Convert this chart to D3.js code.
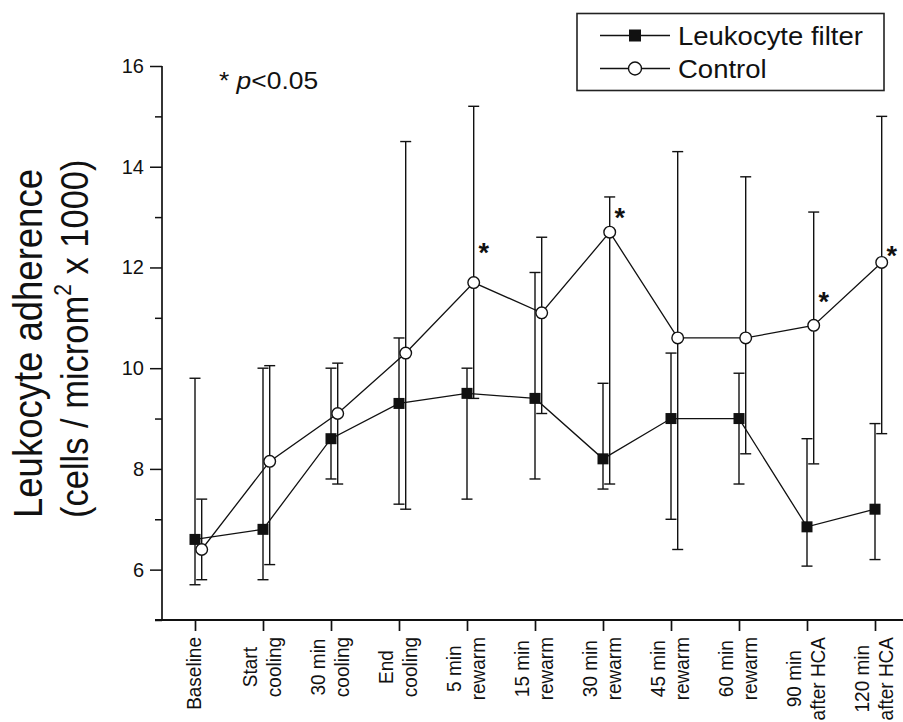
<html>
<head>
<meta charset="utf-8">
<style>
  body { margin: 0; background: #fff; }
  text { font-family: "Liberation Sans", Arial, Helvetica, sans-serif; fill: #111; }
</style>
</head>
<body>
<div id="chartContainer"></div>
<script src="https://d3js.org/d3.v7.min.js"></script>
<script type="text/javascript">
  // time points, one entry per line of the tick label
  var timePoints = [
    ["Baseline"], ["Start", "cooling"], ["30 min", "cooling"], ["End", "cooling"],
    ["5 min", "rewarm"], ["15 min", "rewarm"], ["30 min", "rewarm"], ["45 min", "rewarm"],
    ["60 min", "rewarm"], ["90 min", "after HCA"], ["120 min", "after HCA"]
  ];

  // leukocyte filter group: mean and error bar ends
  var filterMean = [6.6, 6.8, 8.6, 9.3, 9.5, 9.4, 8.2, 9.0, 9.0, 6.85, 7.2];
  var filterLow  = [5.7, 5.8, 7.8, 7.3, 7.4, 7.8, 7.6, 7.0, 7.7, 6.07, 6.2];
  var filterHigh = [9.8, 10.0, 10.0, 10.6, 10.0, 11.9, 9.7, 10.3, 9.9, 8.6, 8.9];

  // control group
  var controlMean = [6.4, 8.15, 9.1, 10.3, 11.7, 11.1, 12.7, 10.6, 10.6, 10.85, 12.1];
  var controlLow  = [5.8, 6.1, 7.7, 7.2, 9.4, 9.1, 7.7, 6.4, 8.3, 8.1, 8.7];
  var controlHigh = [7.4, 10.05, 10.1, 14.5, 15.2, 12.6, 13.4, 14.3, 13.8, 13.1, 15.0];

  // significant time points (index) and the level where the star sits
  var sigIndex = [4, 6, 9, 10];
  var sigLevel = [12.41, 13.11, 11.44, 12.35];

  var yTicks = [6, 8, 10, 12, 14, 16];

  var width = 903, height = 722;
  // the original scan is a bit wider than tall, text looks stretched sideways
  var stretch = 1.1;
  var svg = d3.select("#chartContainer").append("svg")
    .attr("width", width).attr("height", height);

  var keys = timePoints.map(function (d, i) { return "t" + i; });
  var x = d3.scalePoint().domain(keys).range([195, 875]);
  var y = d3.scaleLinear().domain([5, 16]).range([620, 66]);
  var ctrlShift = 6.7;

  //axes
  var yAxis = d3.axisLeft(y).tickValues(yTicks).tickSize(12).tickPadding(6);
  var gy = svg.append("g").attr("transform", "translate(162,0)").call(yAxis);
  gy.select(".domain").remove();
  gy.selectAll(".tick line").attr("stroke", "#111").attr("stroke-width", 1.5);
  gy.selectAll(".tick text").style("font-size", "20px").attr("fill", "#111");

  var minorAxis = d3.axisLeft(y).tickValues(d3.range(5, 16, 2)).tickSize(7).tickFormat("");
  var gm = svg.append("g").attr("transform", "translate(162,0)").call(minorAxis);
  gm.select(".domain").remove();
  gm.selectAll(".tick line").attr("stroke", "#111").attr("stroke-width", 1.5);

  svg.append("line")
    .attr("x1", 162).attr("x2", 162).attr("y1", y(16)).attr("y2", y(5))
    .attr("stroke", "#111").attr("stroke-width", 1.7);
  svg.append("line")
    .attr("x1", 155).attr("x2", width).attr("y1", y(5)).attr("y2", y(5))
    .attr("stroke", "#111").attr("stroke-width", 2.2);

  var xAxis = d3.axisBottom(x).tickSize(11).tickFormat("");
  var gx = svg.append("g").attr("transform", "translate(0," + y(5) + ")").call(xAxis);
  gx.select(".domain").remove();
  gx.selectAll(".tick line").attr("stroke", "#111").attr("stroke-width", 1.7);

  // rotated, two-line tick labels: longest line starts just under the ticks
  var lineGap = 24, labelTop = 637;
  timePoints.forEach(function (lines, i) {
    var g = svg.append("g")
      .attr("transform", "translate(" + x(keys[i]) + ",0) rotate(-90) scale(1," + stretch + ")");
    var first = -(lines.length - 1) * lineGap / 2 + 6;
    var texts = lines.map(function (s, j) {
      return g.append("text")
        .attr("y", (first + j * lineGap) / stretch)
        .attr("text-anchor", "middle")
        .style("font-size", "19px")
        .text(s);
    });
    var maxLen = d3.max(texts, function (t) { return t.node().getComputedTextLength(); });
    texts.forEach(function (t) { t.attr("x", -(labelTop + maxLen / 2)); });
  });

  // y axis title
  var yTitle = svg.append("g").attr("transform", "rotate(-90) scale(1," + stretch + ")");
  yTitle.append("text")
    .attr("x", -518).attr("y", 42 / stretch)
    .style("font-size", "36.5px")
    .text("Leukocyte adherence");
  var t2 = yTitle.append("text")
    .attr("x", -518).attr("y", 88 / stretch)
    .style("font-size", "34.5px");
  t2.append("tspan").text("(cells / microm");
  t2.append("tspan").attr("dy", -15).style("font-size", "21px").text("2");
  t2.append("tspan").attr("dy", 15).text(" x 1000)");

  // series lines
  var line = d3.line()
    .x(function (d) { return d[0]; })
    .y(function (d) { return y(d[1]); });

  svg.append("path")
    .datum(filterMean.map(function (v, i) { return [x(keys[i]), v]; }))
    .attr("d", line).attr("fill", "none").attr("stroke", "#111").attr("stroke-width", 1.3);
  svg.append("path")
    .datum(controlMean.map(function (v, i) { return [x(keys[i]) + ctrlShift, v]; }))
    .attr("d", line).attr("fill", "none").attr("stroke", "#111").attr("stroke-width", 1.3);

  // error bars
  function errorBars(low, high, shift) {
    var g = svg.append("g").attr("stroke", "#111").attr("stroke-width", 1.4);
    low.forEach(function (lo, i) {
      var cx = x(keys[i]) + shift;
      g.append("line").attr("x1", cx).attr("x2", cx).attr("y1", y(lo)).attr("y2", y(high[i]));
      g.append("line").attr("x1", cx - 5.5).attr("x2", cx + 5.5).attr("y1", y(lo)).attr("y2", y(lo));
      g.append("line").attr("x1", cx - 5.5).attr("x2", cx + 5.5).attr("y1", y(high[i])).attr("y2", y(high[i]));
    });
  }
  errorBars(filterLow, filterHigh, 0);
  errorBars(controlLow, controlHigh, ctrlShift);

  // markers
  svg.selectAll(".sq").data(filterMean).enter().append("rect")
    .attr("x", function (d, i) { return x(keys[i]) - 5.5; })
    .attr("y", function (d) { return y(d) - 5.5; })
    .attr("width", 11).attr("height", 11)
    .attr("fill", "#111");
  svg.selectAll(".ci").data(controlMean).enter().append("circle")
    .attr("cx", function (d, i) { return x(keys[i]) + ctrlShift; })
    .attr("cy", function (d) { return y(d); })
    .attr("r", 5.8)
    .attr("fill", "#fff").attr("stroke", "#111").attr("stroke-width", 1.4);

  // significance stars
  sigIndex.forEach(function (k, j) {
    svg.append("text")
      .attr("x", x(keys[k]) + ctrlShift + 10)
      .attr("y", y(sigLevel[j]) + 15)
      .attr("text-anchor", "middle")
      .style("font-size", "27px").style("font-weight", "bold")
      .text("*");
  });

  var pnote = svg.append("text")
    .attr("transform", "translate(219,89) scale(" + stretch + ",1)")
    .style("font-size", "24px");
  pnote.append("tspan").text("* ");
  pnote.append("tspan").style("font-style", "italic").text("p");
  pnote.append("tspan").text("<0.05");

  // legend
  var legend = svg.append("g");
  legend.append("rect")
    .attr("x", 577).attr("y", 13.5).attr("width", 307).attr("height", 77)
    .attr("fill", "#fff").attr("stroke", "#222").attr("stroke-width", 1.6);
  [["Leukocyte filter", 35.5, "square"], ["Control", 68.5, "circle"]].forEach(function (row) {
    legend.append("line")
      .attr("x1", 600).attr("x2", 670).attr("y1", row[1]).attr("y2", row[1])
      .attr("stroke", "#111").attr("stroke-width", 1.3);
    if (row[2] === "square") {
      legend.append("rect").attr("x", 629).attr("y", row[1] - 6).attr("width", 12).attr("height", 12)
        .attr("fill", "#111");
    } else {
      legend.append("circle").attr("cx", 635).attr("cy", row[1]).attr("r", 6.5)
        .attr("fill", "#fff").attr("stroke", "#111").attr("stroke-width", 1.4);
    }
    legend.append("text")
      .attr("transform", "translate(678," + (row[1] + 9.5) + ") scale(" + stretch + ",1)")
      .style("font-size", "25px")
      .text(row[0]);
  });
</script>
</body>
</html>
